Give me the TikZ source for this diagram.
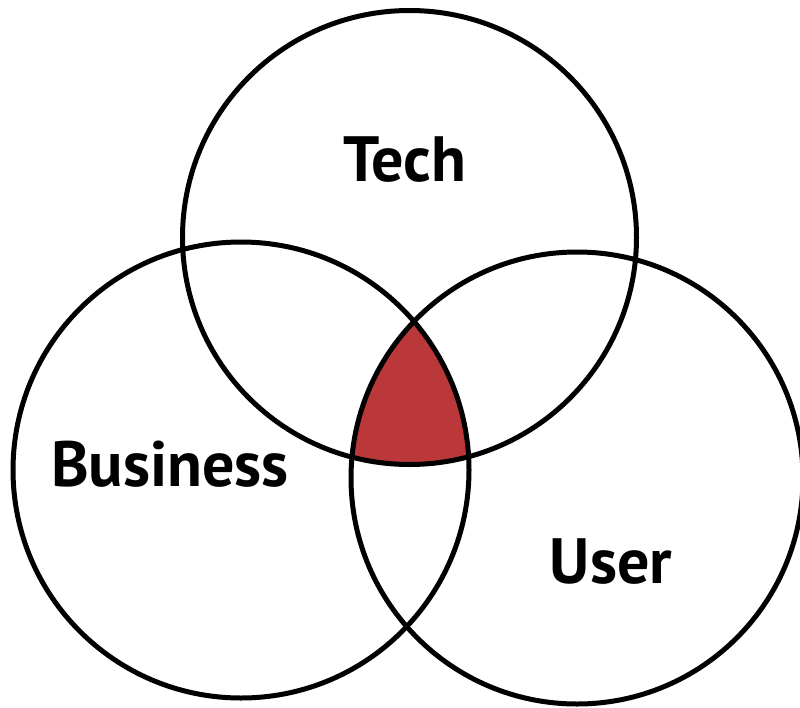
\documentclass[tikz,border=0pt]{standalone}
\usepackage{fontspec}
\setmainfont{PT Sans}
\definecolor{venred}{RGB}{187,56,58}
\begin{document}
\begin{tikzpicture}[x=1pt,y=-1pt,
  ring/.style={draw=black,line width=5pt},
  lbl/.style={font=\fontsize{64}{64}\selectfont\bfseries,inner sep=0pt,anchor=base}]
\useasboundingbox (0,0) rectangle (800,707);
\fill[white] (0,0) rectangle (800,707);
\coordinate (ct) at (409.5,237.5);
\coordinate (cb) at (241,470);
\coordinate (cu) at (577,478);
\begin{scope}
  \clip (ct) circle (227);
  \clip (cb) circle (228);
  \fill[venred] (cu) circle (226);
\end{scope}
\draw[ring] (ct) circle (227);
\draw[ring] (cb) circle (228);
\draw[ring] (cu) circle (226);
\node[lbl] (tech) at (405,181) {Tech};
\node[lbl] (bus) at (170,486) {Business};
\node[lbl] (user) at (611,583) {User};
\end{tikzpicture}
\end{document}
